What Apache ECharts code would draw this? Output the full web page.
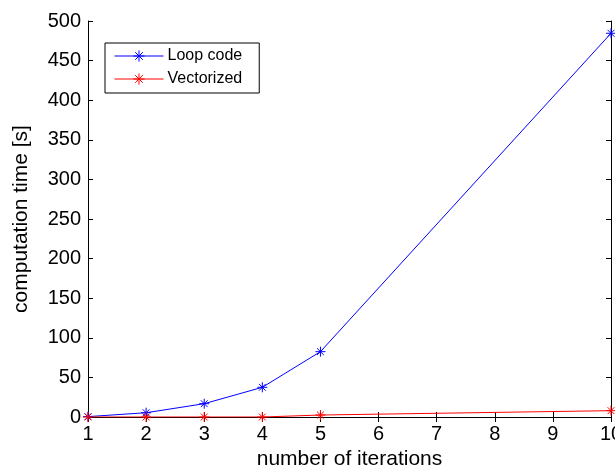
<!DOCTYPE html>
<html>
<head>
<meta charset="utf-8">
<script src="https://cdn.jsdelivr.net/npm/echarts@6/dist/echarts.min.js"></script>
<style>html,body{margin:0;padding:0;background:#fff}#c{width:615px;height:465px}</style>
</head>
<body>
<div id="c"></div>
<script>
const iterations = [1, 2, 3, 4, 5, 10];
const loopCode = [0.5, 5.4, 16.8, 37.5, 82.5, 484.5];
const vectorized = [0, 0, 0, 0, 2.5, 8];
const seriesNames = ['Loop code', 'Vectorized'];
const xName = 'number of iterations';
const yName = 'computation time [s]';

const FONT = 'Liberation Sans, Arial, sans-serif';
const star = 'path://M5 0L5 10M0 5L10 5M1.6 1.6L8.4 8.4M1.6 8.4L8.4 1.6';

function pairs(xs, ys) { return xs.map((x, i) => [x, ys[i]]); }

function mkSeries(name, ys, color) {
  return {
    name: name,
    type: 'line',
    data: pairs(iterations, ys),
    symbol: star,
    symbolSize: 10,
    showSymbol: true,
    lineStyle: { color: color, width: 1 },
    itemStyle: { color: color, borderColor: color, borderWidth: 1 },
    emphasis: { disabled: true },
    animation: false,
    z: 3
  };
}

const axisCommon = {
  type: 'value',
  axisLine: { show: true, lineStyle: { color: '#000', width: 1 } },
  axisTick: { show: true, inside: true, length: 5, lineStyle: { color: '#000', width: 1 } },
  splitLine: { show: false }
};

const chart = echarts.init(document.getElementById('c'), null, { renderer: 'canvas' });
chart.setOption({
  backgroundColor: '#fff',
  animation: false,
  grid: { left: 88, right: 4, top: 21, bottom: 48, containLabel: false, outerBoundsMode: 'none' },
  legend: {
    left: 105, top: 43,
    orient: 'vertical',
    data: seriesNames,
    itemWidth: 49, itemHeight: 14, itemGap: 7,
    padding: [5, 17, 6, 9],
    borderColor: '#000', borderWidth: 1,
    backgroundColor: '#fff',
    lineStyle: { width: 1 },
    itemStyle: { borderWidth: 1 },
    textStyle: { fontFamily: FONT, fontSize: 16, color: '#000', lineHeight: 15, padding: [0, 0, 0, -1] },
    selectedMode: false
  },
  xAxis: [
    Object.assign({}, axisCommon, {
      position: 'bottom', min: 1, max: 10, interval: 1,
      name: xName, nameLocation: 'middle', nameGap: 28,
      nameTextStyle: { fontFamily: FONT, fontSize: 21, color: '#000' },
      axisLabel: { fontFamily: FONT, fontSize: 20, color: '#000', margin: 7 }
    }),
    Object.assign({}, axisCommon, {
      position: 'top', min: 1, max: 10, interval: 1,
      axisLabel: { show: false }
    })
  ],
  yAxis: [
    Object.assign({}, axisCommon, {
      position: 'left', min: 0, max: 500, interval: 50,
      name: yName, nameLocation: 'middle', nameGap: 56, nameRotate: 90,
      nameTextStyle: { fontFamily: FONT, fontSize: 21, color: '#000' },
      axisLabel: { fontFamily: FONT, fontSize: 20, color: '#000', margin: 7 }
    }),
    Object.assign({}, axisCommon, {
      position: 'right', min: 0, max: 500, interval: 50,
      axisLabel: { show: false }
    })
  ],
  series: [
    mkSeries(seriesNames[0], loopCode, '#0000ff'),
    mkSeries(seriesNames[1], vectorized, '#ff0000')
  ]
});
</script>
</body>
</html>
